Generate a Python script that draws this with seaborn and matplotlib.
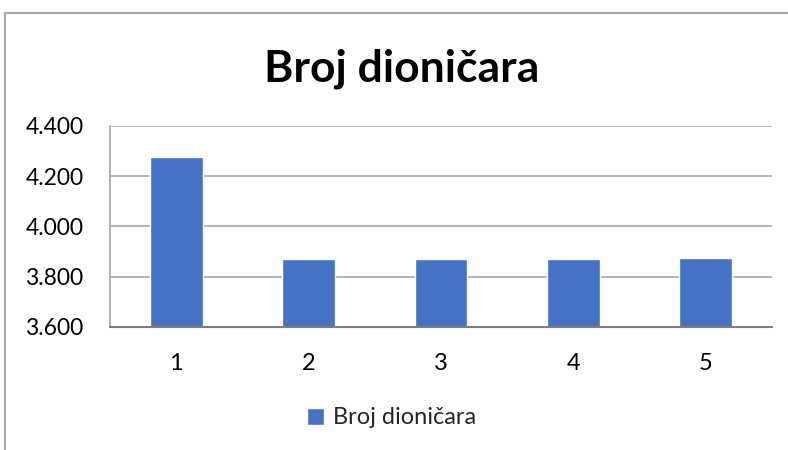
import matplotlib
matplotlib.use("Agg")
import matplotlib.pyplot as plt
from matplotlib.patches import Rectangle
from matplotlib.ticker import FuncFormatter
import pandas as pd
import seaborn as sns

# data
categories = ["1", "2", "3", "4", "5"]
values = [4275, 3870, 3871, 3869, 3874]
series_name = "Broj dioničara"
y_ticks = [3600, 3800, 4000, 4200, 4400]

sns.set_theme(style="white")
plt.rcParams["font.family"] = ["Lato", "DejaVu Sans"]

df = pd.DataFrame({"kategorija": categories, "vrijednost": values})

fig = plt.figure(figsize=(7.88, 4.5), dpi=100)
ax = fig.add_axes([110 / 788, 1 - 327 / 450, 662 / 788, 201 / 450])

sns.barplot(data=df, x="kategorija", y="vrijednost", color="#4472C4",
            width=0.4, saturation=1, label=series_name, ax=ax, zorder=2)

ax.set_ylim(3600, 4400)
ax.set_yticks(y_ticks)
ax.yaxis.set_major_formatter(FuncFormatter(lambda v, p: f"{int(v):,}".replace(",", ".")))
ax.set_xlim(-0.5, 4.5)
ax.set_xlabel("")
ax.set_ylabel("")

ax.grid(axis="y", color="#A6A6A6", linewidth=1.2, zorder=0)
ax.set_axisbelow(True)
for s in ["top", "right"]:
    ax.spines[s].set_visible(False)
ax.spines["left"].set_color("#A6A6A6")
ax.spines["left"].set_linewidth(1.2)
ax.spines["bottom"].set_color("#7F7F7F")
ax.spines["bottom"].set_linewidth(1.5)

ax.tick_params(axis="y", length=0, pad=19, labelsize=16.5, labelcolor="#000000")
ax.tick_params(axis="x", length=0, pad=19, labelsize=17, labelcolor="#000000")

handles, labels = ax.get_legend_handles_labels()
if ax.get_legend() is not None:
    ax.get_legend().remove()

fig.text(0.51, 0.848, "Broj dioničara", ha="center", va="center",
         fontsize=32, fontweight="bold", color="#000000")

fig.legend(handles, labels, loc="center", bbox_to_anchor=(0.497, 1 - 418 / 450),
           frameon=False, fontsize=17, handlelength=0.7, handleheight=0.7,
           handletextpad=0.4)

# outer chart border (cut off at right and bottom as in the reference)
fig.add_artist(Rectangle((5 / 788, -0.1), 1.2, 1 - 13 / 450 + 0.1,
                         transform=fig.transFigure, fill=False,
                         edgecolor="#A6A6A6", linewidth=1.5))

fig.savefig("out.png", dpi=100)
